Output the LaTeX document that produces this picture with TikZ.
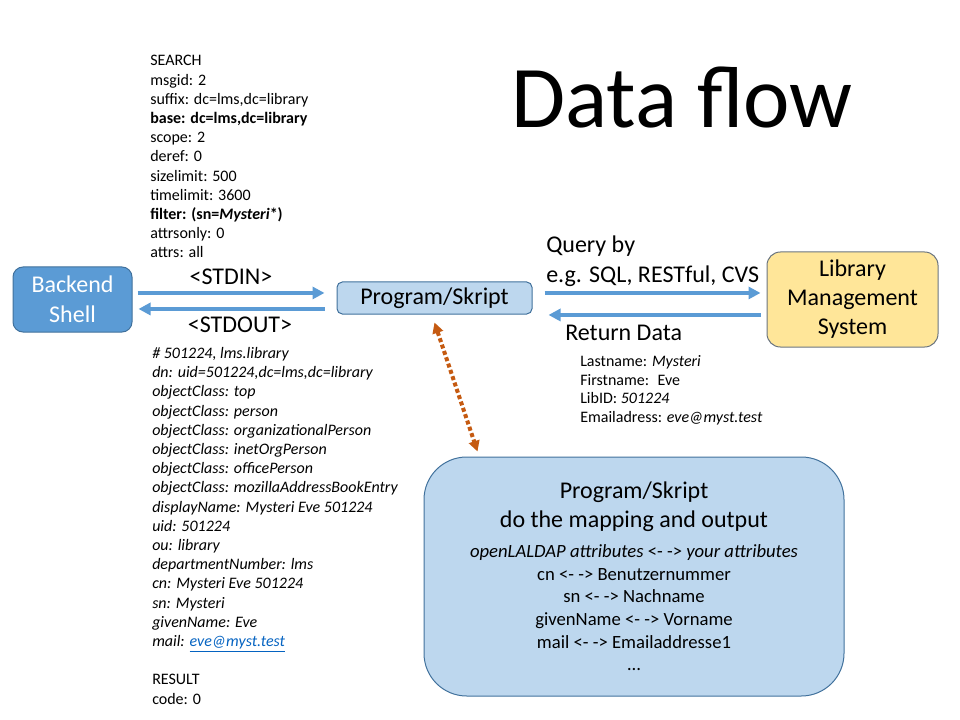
\documentclass[tikz,border=0pt]{standalone}
\usepackage{fontspec}
\setmainfont{Carlito}
\usetikzlibrary{arrows.meta,positioning}

\definecolor{flowblue}{HTML}{5B9BD5}
\definecolor{shellborder}{HTML}{41719C}
\definecolor{progfill}{HTML}{BDD7EE}
\definecolor{lmsfill}{HTML}{FFE699}
\definecolor{lmsborder}{HTML}{6B7580}
\definecolor{mapcolor}{HTML}{C55A11}
\definecolor{linkblue}{HTML}{0563C1}

\begin{document}
\begin{tikzpicture}[x=0.75pt, y=-0.75pt,
    shellbox/.style={rectangle, draw=shellborder, fill=flowblue, line width=0.75pt, rounded corners=7.5pt, align=center, text=white, font=\fontsize{18}{22.5}\selectfont},
    progbox/.style={rectangle, draw=shellborder, fill=progfill, line width=0.75pt, align=center, font=\fontsize{18}{21.75}\selectfont},
    lmsbox/.style={rectangle, draw=lmsborder, fill=lmsfill, line width=0.75pt, rounded corners=10pt, align=center, font=\fontsize{18}{21.75}\selectfont},
    flow/.style={-{Triangle[length=9pt,width=9pt]}, draw=flowblue, line width=3pt},
    mapping/.style={{Triangle[length=8pt,width=8pt]}-{Triangle[length=8pt,width=8pt]}, draw=mapcolor, line width=3pt, dash pattern=on 3pt off 2pt},
    msg/.style={align=left, inner sep=0pt, font=\fontsize{12}{14.4}\selectfont},
    label/.style={align=left, inner sep=0pt, font=\fontsize{18}{21.75}\selectfont}
]
    \useasboundingbox (0,0) rectangle (960,720);

    % Title
    \node[inner sep=0pt, anchor=base, font=\fontsize{66}{79}\selectfont] (title) at (682,128) {Data flow};

    % Main boxes
    \node[shellbox, minimum width=89.25pt, minimum height=48.75pt] (shell) at (72.5,299.5) {Backend\\Shell};
    \node[progbox, rounded corners=4pt, minimum width=146.25pt, minimum height=24pt] (prog) at (434.5,298) {Program/Skript};
    \node[lmsbox, minimum width=128.25pt, minimum height=71.25pt] (lms) at (852.5,299.5) {Library\\Management\\System};
    \node[progbox, rounded corners=32pt, minimum width=315pt, minimum height=179.25pt] (mapper) at (634,576.5) {};

    % Text of the mapping box
    \node[align=center, inner sep=0pt, font=\fontsize{14}{17}\selectfont] (maptext) at (mapper.center) {
        {\fontsize{18}{21.75}\selectfont Program/Skript}\\[4.75pt]
        {\fontsize{18}{21.75}\selectfont do the mapping and output}\\[5.5pt]
        \textit{openLALDAP attributes} <- -> \textit{your attributes}\\
        cn <- -> Benutzernummer\\
        sn <- -> Nachname\\
        givenName <- -> Vorname\\
        mail <- -> Emailaddresse1\\
        …
    };

    % Arrows
    \coordinate (inA) at ([yshift=4.9pt]shell.east);
    \coordinate (outA) at ([yshift=-7.1pt]shell.east);
    \coordinate (queryA) at ([yshift=4.9pt]lms.west);
    \coordinate (backA) at ([yshift=-11.6pt]lms.west);
    \draw[flow, shorten <=3.75pt, shorten >=9pt] (inA) -- (inA -| prog.west);
    \draw[flow, shorten <=9pt, shorten >=4.5pt] (outA -| prog.west) -- (outA);
    \draw[flow, shorten <=9pt, shorten >=4.5pt] (queryA -| prog.east) -- (queryA);
    \draw[flow, shorten <=4.5pt, shorten >=12pt] (backA) -- (backA -| prog.east);

    % Mapping link
    \coordinate (mapTop) at ([yshift=-6pt]prog.south);
    \coordinate (mapBot) at ([xshift=40.5pt,yshift=3.75pt]mapper.north west);
    \draw[mapping] (mapTop) -- (mapBot);

    % Arrow labels
    \node[label, anchor=base] (stdin) at (231,285) {<STDIN>};
    \node[label, anchor=base] (stdout) at (240,332) {<STDOUT>};
    \node[label, anchor=base west] (query) at (546,282) {Query by\\e.g. SQL, RESTful, CVS};
    \node[label, anchor=base west] (retdata) at (565,340) {Return Data};

    % LDAP request
    \node[msg, anchor=base west] (request) at (150,258) {
        SEARCH\\
        msgid: 2\\
        suffix: dc=lms,dc=library\\
        \textbf{base: dc=lms,dc=library}\\
        scope: 2\\
        deref: 0\\
        sizelimit: 500\\
        timelimit: 3600\\
        \textbf{filter: (sn=\textit{Mysteri}*)}\\
        attrsonly: 0\\
        attrs: all
    };

    % LDAP answer
    \node[msg, anchor=base west] (answer) at (152,704) {
        \textit{\# 501224, lms.library}\\
        \textit{dn: uid=501224,dc=lms,dc=library}\\
        \textit{objectClass: top}\\
        \textit{objectClass: person}\\
        \textit{objectClass: organizationalPerson}\\
        \textit{objectClass: inetOrgPerson}\\
        \textit{objectClass: officePerson}\\
        \textit{objectClass: mozillaAddressBookEntry}\\
        \textit{displayName: Mysteri Eve 501224}\\
        \textit{uid: 501224}\\
        \textit{ou: library}\\
        \textit{departmentNumber: lms}\\
        \textit{cn: Mysteri Eve 501224}\\
        \textit{sn: Mysteri}\\
        \textit{givenName: Eve}\\
        \textit{mail: {\color{linkblue}\underline{eve@myst.test}}}\\[14.4pt]
        RESULT\\
        code: 0
    };

    % Returned record
    \node[msg, anchor=base west, font=\fontsize{12}{14}\selectfont] (record) at (580,422.5) {
        Lastname: \textit{Mysteri}\\
        Firstname:~ Eve\\
        LibID: \textit{501224}\\
        Emailadress: \textit{eve@myst.test}
    };
\end{tikzpicture}
\end{document}
